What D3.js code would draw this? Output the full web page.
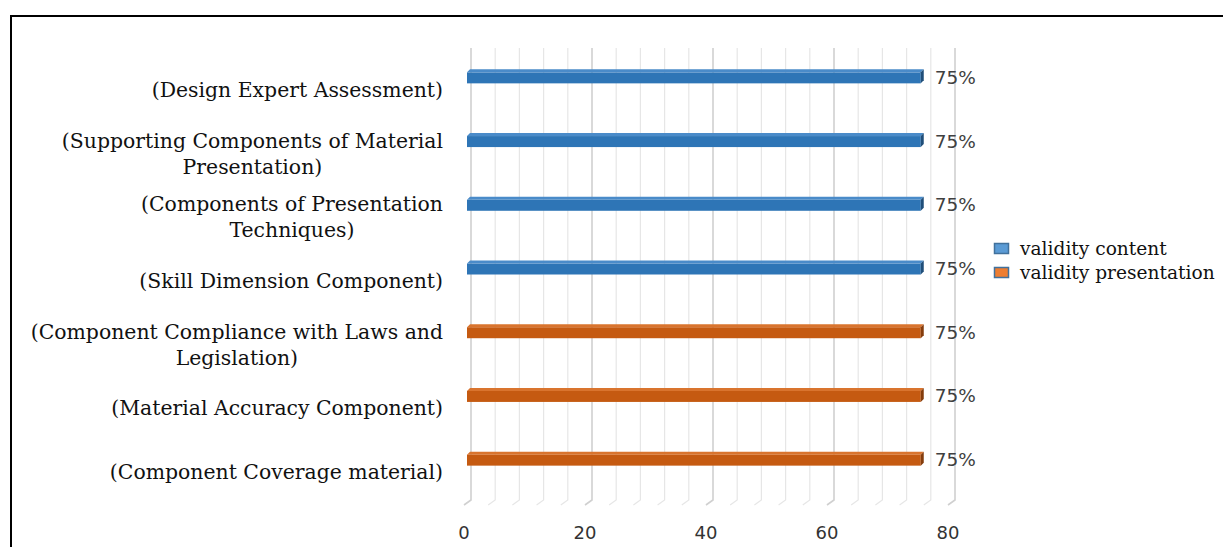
<!DOCTYPE html>
<html>
<head>
<meta charset="utf-8">
<script src="https://cdn.jsdelivr.net/npm/d3@7"></script>
<style>
  html, body { margin: 0; padding: 0; background: #fff; }
  svg { display: block; }
</style>
</head>
<body>
<div id="chart"></div>
<script>
// chart data
const categories = [
    "(Design Expert Assessment)",
    "(Supporting Components of Material Presentation)",
    "(Components of Presentation Techniques)",
    "(Skill Dimension Component)",
    "(Component Compliance with Laws and Legislation)",
    "(Material Accuracy Component)",
    "(Component Coverage material)"
];
const values = [75, 75, 75, 75, 75, 75, 75];
const seriesOf = ["content", "content", "content", "content", "presentation", "presentation", "presentation"];
const seriesNames = ["validity content", "validity presentation"];
const xTicks = [0, 20, 40, 60, 80];

const width = 1223, height = 547;
const serif = "'DejaVu Serif', 'Liberation Serif', serif";
const sans = "'DejaVu Sans', 'Open Sans', sans-serif";

const colors = {
    content: { front: "#2e75b6", top: "#4a8bc9", side: "#1f4e79", legend: "#5b9bd5" },
    presentation: { front: "#c55a11", top: "#d9742e", side: "#843c0c", legend: "#ed7d31" }
};

const svg = d3.select("#chart")
    .append("svg")
    .attr("width", width)
    .attr("height", height);

// outer frame (only top and left visible)
svg.append("path")
    .attr("d", `M11,${height} L11,16 L${width},16`)
    .attr("fill", "none")
    .attr("stroke", "#000")
    .attr("stroke-width", 2);

// back wall scale + 3D offset for the floor
const x = d3.scaleLinear().domain([0, 80]).range([471, 955]);
const depth = { dx: -7, dy: 5 };
const wallTop = 48, wallBottom = 500;

const y = d3.scaleBand()
    .domain(categories)
    .range([58, 504])
    .padding(0);

// gridlines, every 4 units, darker on majors
const grid = svg.append("g");
d3.range(0, 81, 4).forEach(v => {
    const major = v % 20 === 0;
    grid.append("path")
        .attr("d", `M${x(v)},${wallTop} L${x(v)},${wallBottom} L${x(v) + depth.dx},${wallBottom + depth.dy}`)
        .attr("fill", "none")
        .attr("stroke", major ? "#d0d0d0" : "#e6e6e6")
        .attr("stroke-width", major ? 1.6 : 1.2);
});

// x tick labels at the front edge
svg.append("g").selectAll("text")
    .data(xTicks)
    .enter()
    .append("text")
    .attr("x", d => x(d) + depth.dx)
    .attr("y", 539)
    .attr("text-anchor", "middle")
    .attr("font-family", sans)
    .attr("font-size", 18)
    .attr("fill", "#333")
    .text(d => d);

// bars (thin 3D bars)
const barH = 11, barTop = 3;
const bars = svg.append("g").selectAll("g")
    .data(categories.map((c, i) => ({ cat: c, value: values[i], series: seriesOf[i] })))
    .enter()
    .append("g");

const barY = d => y(d.cat) + y.bandwidth() / 2 - 12;
const x0 = 467;
const x1 = d => x(d.value) - 4;

bars.append("rect")
    .attr("x", x0)
    .attr("y", d => barY(d) - barH / 2)
    .attr("width", d => x1(d) - x0)
    .attr("height", barH)
    .attr("fill", d => colors[d.series].front);

bars.append("path")
    .attr("d", d => {
        const t = barY(d) - barH / 2;
        return `M${x0},${t} L${x0 + barTop},${t - barTop} L${x1(d) + barTop},${t - barTop} L${x1(d)},${t} Z`;
    })
    .attr("fill", d => colors[d.series].top);

bars.append("path")
    .attr("d", d => {
        const t = barY(d) - barH / 2;
        return `M${x1(d)},${t} L${x1(d) + barTop},${t - barTop} L${x1(d) + barTop},${t + barH - barTop} L${x1(d)},${t + barH} Z`;
    })
    .attr("fill", d => colors[d.series].side);

// value labels
bars.append("text")
    .attr("x", d => x1(d) + 14)
    .attr("y", d => barY(d) + 6)
    .attr("font-family", sans)
    .attr("font-size", 18.5)
    .attr("fill", "#404040")
    .text(d => d.value + "%");

// category labels, wrapped and centered as a block right-aligned at the axis
const labelRight = 443, wrapWidth = 428, lineH = 26;
const labelG = svg.append("g");
categories.forEach(c => {
    const t = labelG.append("text")
        .attr("font-family", serif)
        .attr("font-size", 20.4)
        .attr("fill", "#111");
    // wrap words into lines
    const words = c.split(" ");
    const lines = [];
    let line = [];
    const probe = t.append("tspan");
    words.forEach(w => {
        line.push(w);
        probe.text(line.join(" "));
        if (probe.node().getComputedTextLength() > wrapWidth && line.length > 1) {
            line.pop();
            lines.push(line.join(" "));
            line = [w];
        }
    });
    lines.push(line.join(" "));
    probe.remove();

    const widths = lines.map(l => {
        const s = t.append("tspan").text(l);
        const w = s.node().getComputedTextLength();
        s.remove();
        return w;
    });
    const blockW = d3.max(widths);
    const cx = labelRight - blockW / 2;
    const cy = y(c) + y.bandwidth() / 2;
    lines.forEach((l, i) => {
        t.append("tspan")
            .attr("x", cx)
            .attr("text-anchor", "middle")
            .attr("y", cy + 7 + (i - (lines.length - 1) / 2) * lineH)
            .text(l);
    });
});

// legend
const legend = svg.append("g").attr("transform", "translate(994,243)");
seriesNames.forEach((name, i) => {
    const key = i === 0 ? "content" : "presentation";
    const g = legend.append("g").attr("transform", `translate(0,${i * 24})`);
    g.append("rect")
        .attr("x", 0.5).attr("y", 0.5)
        .attr("width", 14).attr("height", 10)
        .attr("fill", colors[key].legend)
        .attr("stroke", "#41719c")
        .attr("stroke-width", 1.5);
    g.append("text")
        .attr("x", 26)
        .attr("y", 12)
        .attr("font-family", serif)
        .attr("font-size", 18.6)
        .attr("fill", "#111")
        .text(name);
});
</script>
</body>
</html>
